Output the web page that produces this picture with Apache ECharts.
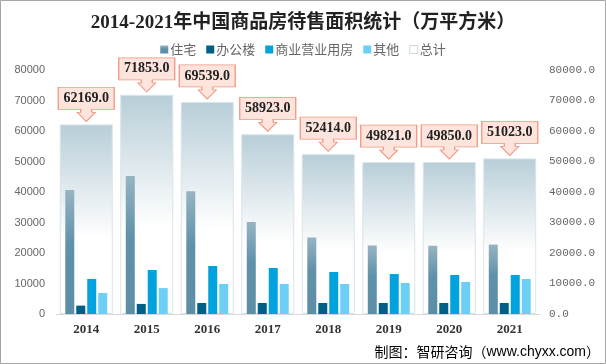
<!DOCTYPE html>
<html>
<head>
<meta charset="utf-8">
<script src="https://cdn.jsdelivr.net/npm/echarts@6/dist/echarts.min.js"></script>
<style>
html,body{margin:0;padding:0;background:#fff;}
#chart{width:606px;height:364px;}
</style>
</head>
<body>
<div id="chart"></div>
<script>
var categories = ['2014','2015','2016','2017','2018','2019','2020','2021'];
var residential = [40684, 45248, 40257, 30163, 25091, 22473, 22379, 22761];
var office = [2750, 3300, 3600, 3600, 3600, 3600, 3600, 3600];
var commercial = [11500, 14430, 15740, 15080, 13770, 13100, 12800, 12800];
var other = [6900, 8500, 9840, 9840, 9840, 10160, 10500, 11470];
var total = [62169, 71853, 69539, 58923, 52414, 49821, 49850, 51023];
var yTicks = {min: 0, max: 80000, interval: 10000};

var chart = echarts.init(document.getElementById('chart'));
var serif = "'Liberation Serif','Noto Sans CJK SC',serif";
var calloutPath = 'path://M0,0L56,0L56,22L33.5,22L33.5,25L37,25L28,34L19,25L22.5,25L22.5,22L0,22Z';

var option = {
  animation: false,
  backgroundColor: '#fff',
  title: {
    text: '2014-2021年中国商品房待售面积统计（万平方米）',
    left: 'center',
    top: 9,
    textStyle: {fontFamily: serif, fontWeight: 'bold', fontSize: 19, color: '#222'}
  },
  legend: {
    top: 38,
    left: 'center',
    itemWidth: 8,
    itemHeight: 8,
    itemGap: 10,
    icon: 'rect',
    textStyle: {fontSize: 13, color: '#666', fontFamily: "'Noto Sans CJK SC',sans-serif", padding: [0,0,0,-3]},
    data: ['住宅','办公楼','商业营业用房','其他',
      {name: '总计', itemStyle: {color: '#ffffff', borderColor: '#c9d9e0', borderWidth: 1}}]
  },
  grid: {left: 56, right: 66, top: 70, bottom: 50},
  xAxis: [
    {
      type: 'category',
      data: categories,
      axisLine: {show: true, lineStyle: {color: '#d9d9d9', width: 1}},
      axisTick: {show: false},
      axisLabel: {fontFamily: serif, fontWeight: 'bold', fontSize: 13, color: '#333', margin: 9}
    },
    {
      type: 'category',
      data: categories,
      show: false
    }
  ],
  yAxis: [
    {
      type: 'value',
      min: yTicks.min, max: yTicks.max, interval: yTicks.interval,
      axisLine: {show: false},
      axisTick: {show: false},
      splitLine: {show: false},
      axisLabel: {fontSize: 11, color: '#666', fontFamily: "'Liberation Sans',Arial,sans-serif", margin: 11,
        formatter: function (v) { return String(v); }}
    },
    {
      type: 'value',
      min: yTicks.min, max: yTicks.max, interval: yTicks.interval,
      position: 'right',
      axisLine: {show: false},
      axisTick: {show: false},
      splitLine: {show: false},
      axisLabel: {fontSize: 11, color: '#666', fontFamily: "'Liberation Mono',monospace", margin: 9,
        formatter: function (v) { return v.toFixed(1); }}
    }
  ],
  series: [
    {
      name: '住宅', type: 'bar', data: residential, barWidth: 9, barGap: '22%', z: 3,
      itemStyle: {color: new echarts.graphic.LinearGradient(0, 0, 0, 1, [
        {offset: 0, color: '#97b4c3'}, {offset: 0.45, color: '#5f91a8'}, {offset: 1, color: '#5c8ea6'}])}
    },
    {
      name: '办公楼', type: 'bar', data: office, barWidth: 9, barGap: '22%', z: 3,
      itemStyle: {color: '#005f86'}
    },
    {
      name: '商业营业用房', type: 'bar', data: commercial, barWidth: 9, barGap: '22%', z: 3,
      itemStyle: {color: '#00a3dd'}
    },
    {
      name: '其他', type: 'bar', data: other, barWidth: 9, barGap: '22%', z: 3,
      itemStyle: {color: '#6dcff5'}
    },
    {
      name: '总计', type: 'bar', data: total, xAxisIndex: 1, yAxisIndex: 0, barWidth: 53, z: 1,
      itemStyle: {
        color: new echarts.graphic.LinearGradient(0, 0, 0, 1, [
          {offset: 0, color: '#b8ced8'}, {offset: 0.6, color: '#ffffff'}, {offset: 1, color: '#ffffff'}]),
        borderColor: '#d8e5ea', borderWidth: 1
      },
      markPoint: {
        symbol: calloutPath,
        symbolSize: [56, 34],
        symbolOffset: [0, -20],
        symbolKeepAspect: false,
        itemStyle: {color: '#fde5dd', borderColor: '#f2957e', borderWidth: 1},
        label: {
          show: true, position: 'inside', offset: [0, -6],
          fontFamily: serif, fontWeight: 'bold', fontSize: 14, color: '#222',
          formatter: function (p) { return p.value.toFixed(1); }
        },
        data: total.map(function (v, i) { return {coord: [i, v], value: v}; })
      }
    }
  ],
  graphic: [
    {
      type: 'rect', silent: true,
      shape: {x: 0.5, y: 0.5, width: 605, height: 363},
      style: {fill: 'none', stroke: '#a6a6a6', lineWidth: 1}
    },
    {
      type: 'text', right: 6, bottom: 5,
      style: {
        text: '{a|制图：智研咨询（}{b|www.chyxx.com}{a|）}',
        rich: {
          a: {fontSize: 14, color: '#222', fontFamily: "'Noto Sans CJK SC',sans-serif"},
          b: {fontSize: 14, color: '#1d3b8b', fontFamily: "'Liberation Sans',Arial,sans-serif"}
        }
      }
    }
  ]
};
chart.setOption(option);
</script>
</body>
</html>
